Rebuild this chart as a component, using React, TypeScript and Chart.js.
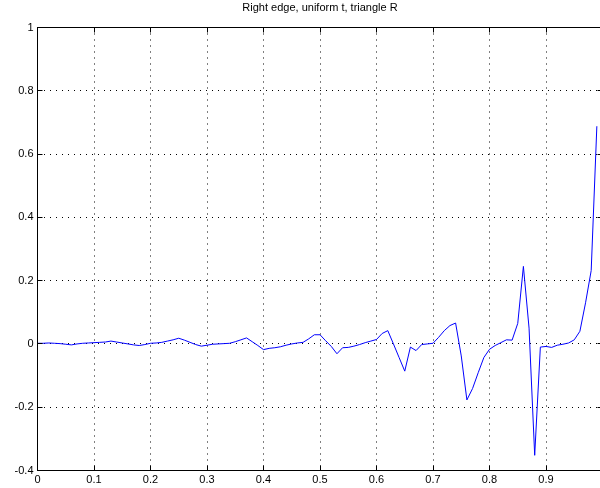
import React, { useEffect, useRef } from "react";
import { Chart, registerables } from "chart.js";

Chart.register(...registerables);

const TITLE = "Right edge, uniform t, triangle R";

// uniform parameter t
const T = [
  0.0, 0.01, 0.02, 0.03, 0.04, 0.05, 0.06, 0.07, 0.08, 0.09,
  0.1, 0.11, 0.12, 0.13, 0.14, 0.15, 0.16, 0.17, 0.18, 0.19,
  0.2, 0.21, 0.22, 0.23, 0.24, 0.25, 0.26, 0.27, 0.28, 0.29,
  0.3, 0.31, 0.32, 0.33, 0.34, 0.35, 0.36, 0.37, 0.38, 0.39,
  0.4, 0.41, 0.42, 0.43, 0.44, 0.45, 0.46, 0.47, 0.48, 0.49,
  0.5, 0.51, 0.52, 0.53, 0.54, 0.55, 0.56, 0.57, 0.58, 0.59,
  0.6, 0.61, 0.62, 0.63, 0.64, 0.65, 0.66, 0.67, 0.68, 0.69,
  0.7, 0.71, 0.72, 0.73, 0.74, 0.75, 0.76, 0.77, 0.78, 0.79,
  0.8, 0.81, 0.82, 0.83, 0.84, 0.85, 0.86, 0.87, 0.88, 0.89,
  0.9, 0.91, 0.92, 0.93, 0.94, 0.95, 0.96, 0.97, 0.98, 0.99,
];

// error values
const V = [
  0.002, 0.002, 0.003, 0.002, 0.001, -0.001, -0.003, 0.0, 0.002, 0.003,
  0.004, 0.005, 0.006, 0.009, 0.006, 0.003, 0.0, -0.003, -0.005, -0.002,
  0.002, 0.003, 0.005, 0.009, 0.013, 0.018, 0.012, 0.005, -0.002, -0.007,
  -0.004, -0.001, 0.0, 0.001, 0.002, 0.007, 0.013, 0.019, 0.007, -0.005,
  -0.018, -0.014, -0.012, -0.009, -0.004, 0.0, 0.003, 0.005, 0.016, 0.029,
  0.029, 0.01, -0.008, -0.031, -0.012, -0.011, -0.007, -0.002, 0.004, 0.009,
  0.014, 0.033, 0.042, 0.0, -0.043, -0.086, -0.01, -0.021, -0.002, 0.0,
  0.002, 0.021, 0.042, 0.058, 0.066, -0.038, -0.177, -0.141, -0.091, -0.043,
  -0.017, -0.005, 0.004, 0.013, 0.012, 0.065, 0.245, 0.05, -0.352, -0.01,
  -0.008, -0.011, -0.004, -0.001, 0.003, 0.013, 0.04, 0.13, 0.232, 0.688,
];

const X_MIN = 0;
const X_MAX = 1;
const X_STEP = 0.1;
const Y_MIN = -0.4;
const Y_MAX = 1;
const Y_STEP = 0.2;

const FONT = "'Liberation Sans', Arial, Helvetica, sans-serif";

const fmt = (v: number) => {
  const n = Number(Number(v).toFixed(2));
  return (Object.is(n, -0) ? 0 : n).toString();
};

const align = (p: number) => Math.round(p - 0.5) + 0.5;

const matlabBox = {
  id: "matlabBox",
  afterDraw(chart: any) {
    const { ctx, chartArea: a, scales } = chart;
    const x = scales.x;
    const y = scales.y;
    const L = 5;
    ctx.save();
    ctx.setLineDash([]);
    ctx.strokeStyle = "#000";
    ctx.lineWidth = 1;
    ctx.beginPath();
    x.ticks.forEach((t: any) => {
      const px = align(x.getPixelForValue(t.value));
      ctx.moveTo(px, a.top);
      ctx.lineTo(px, a.top + L);
      ctx.moveTo(px, a.bottom);
      ctx.lineTo(px, a.bottom - L);
    });
    y.ticks.forEach((t: any) => {
      const py = align(y.getPixelForValue(t.value));
      ctx.moveTo(a.left, py);
      ctx.lineTo(a.left + L, py);
      ctx.moveTo(a.right, py);
      ctx.lineTo(a.right - L, py);
    });
    ctx.stroke();
    ctx.strokeRect(a.left, a.top, a.right - a.left, a.bottom - a.top);
    ctx.restore();
  },
};

export default function App() {
  const ref = useRef<HTMLCanvasElement | null>(null);

  useEffect(() => {
    if (!ref.current) return;
    const points = T.map((t, i) => ({ x: t, y: V[i] }));
    const chart = new Chart(ref.current, {
      type: "line",
      data: {
        datasets: [
          {
            data: points,
            borderColor: "#0000ff",
            borderWidth: 1,
            pointRadius: 0,
            tension: 0,
            fill: false,
          },
        ],
      },
      options: {
        responsive: false,
        devicePixelRatio: 1,
        animation: false,
        events: [],
        layout: { padding: { left: 0, right: 7.5, top: 0, bottom: 0 } },
        plugins: {
          legend: { display: false },
          tooltip: { enabled: false },
          title: {
            display: true,
            text: TITLE,
            fullSize: false,
            color: "#000",
            font: { family: FONT, size: 11, weight: "normal", lineHeight: 1.2 },
            padding: { top: 1, bottom: 13.3 },
          },
        },
        scales: {
          x: {
            type: "linear",
            min: X_MIN,
            max: X_MAX,
            afterFit: (s: any) => {
              s.height = 17.5;
            },
            ticks: {
              stepSize: X_STEP,
              autoSkip: false,
              maxRotation: 0,
              padding: 3,
              color: "#000",
              font: { family: FONT, size: 11 },
              callback: (v: any) => fmt(v),
            },
            grid: {
              color: "#000",
              lineWidth: 1,
              drawTicks: false,
            },
            border: { display: false, dash: [1, 5] },
          },
          y: {
            type: "linear",
            min: Y_MIN,
            max: Y_MAX,
            afterFit: (s: any) => {
              s.width = 37.5;
            },
            ticks: {
              stepSize: Y_STEP,
              autoSkip: false,
              padding: 4,
              color: "#000",
              font: { family: FONT, size: 11 },
              callback: (v: any) => fmt(v),
            },
            grid: {
              color: "#000",
              lineWidth: 1,
              drawTicks: false,
            },
            border: { display: false, dash: [1, 5] },
          },
        },
      },
      plugins: [matlabBox],
    });
    return () => chart.destroy();
  }, []);

  return (
    <div
      style={{
        position: "absolute",
        left: 0,
        top: 0,
        width: 600,
        height: 488,
        overflow: "hidden",
        background: "#fff",
      }}
    >
      <canvas ref={ref} width={610} height={488} style={{ display: "block" }} />
    </div>
  );
}
